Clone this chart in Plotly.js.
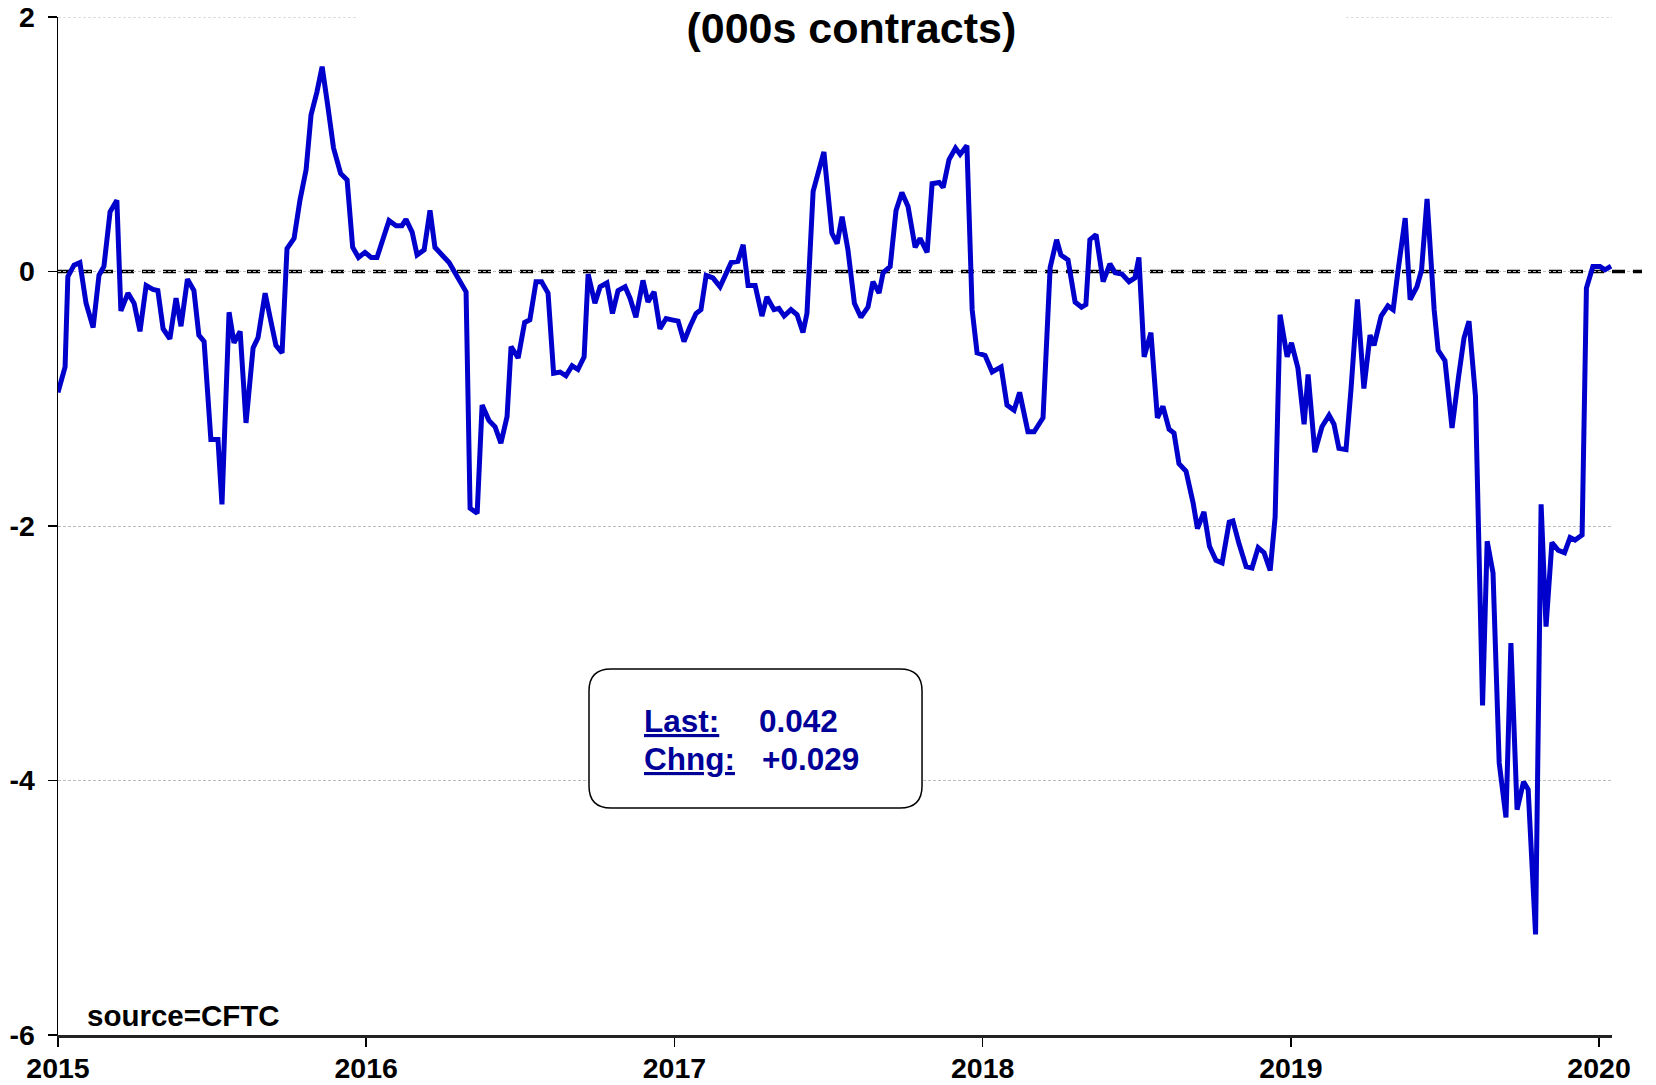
<!DOCTYPE html>
<html>
<head>
<meta charset="utf-8">
<script src="https://cdn.plot.ly/plotly-3.0.1.min.js"></script>
<style>
html,body{margin:0;padding:0;background:#fff;}
#chart{width:1656px;height:1085px;}
</style>
</head>
<body>
<div id="chart"></div>
<script>
// Weekly CFTC net positioning (000s contracts), x as decimal year
var dates = [
2015.000,2015.023,2015.032,2015.052,2015.071,2015.091,2015.114,2015.133,2015.149,2015.169,
2015.191,2015.204,2015.227,2015.247,2015.266,2015.286,2015.308,2015.324,2015.341,2015.363,
2015.383,2015.399,2015.420,2015.441,2015.457,2015.474,2015.496,2015.519,2015.532,2015.555,
2015.571,2015.591,2015.610,2015.633,2015.649,2015.672,2015.688,2015.707,2015.727,2015.743,
2015.766,2015.785,2015.805,2015.821,2015.840,2015.857,2015.876,2015.894,2015.917,2015.938,
2015.956,2015.975,2015.996,2016.016,2016.035,2016.055,2016.074,2016.097,2016.116,2016.129,
2016.149,2016.165,2016.188,2016.207,2016.223,2016.246,2016.269,2016.288,2016.324,2016.337,
2016.360,2016.376,2016.398,2016.418,2016.437,2016.457,2016.470,2016.493,2016.514,2016.531,
2016.551,2016.569,2016.590,2016.608,2016.629,2016.648,2016.668,2016.687,2016.707,2016.720,
2016.742,2016.759,2016.781,2016.799,2016.817,2016.840,2016.856,2016.875,2016.898,2016.914,
2016.934,2016.953,2016.973,2016.992,2017.012,2017.031,2017.051,2017.070,2017.086,2017.103,
2017.125,2017.148,2017.184,2017.206,2017.223,2017.239,2017.262,2017.284,2017.300,2017.323,
2017.339,2017.356,2017.378,2017.398,2017.417,2017.430,2017.450,2017.485,2017.511,2017.528,
2017.544,2017.563,2017.584,2017.605,2017.628,2017.644,2017.664,2017.677,2017.700,2017.719,
2017.738,2017.758,2017.781,2017.797,2017.820,2017.836,2017.859,2017.872,2017.891,2017.912,
2017.927,2017.949,2017.966,2017.982,2018.008,2018.031,2018.060,2018.079,2018.102,2018.120,
2018.147,2018.167,2018.196,2018.219,2018.240,2018.254,2018.277,2018.300,2018.321,2018.335,
2018.348,2018.368,2018.391,2018.413,2018.430,2018.452,2018.475,2018.494,2018.507,2018.524,
2018.546,2018.567,2018.585,2018.605,2018.621,2018.637,2018.660,2018.683,2018.697,2018.718,
2018.736,2018.757,2018.777,2018.800,2018.812,2018.832,2018.855,2018.874,2018.894,2018.913,
2018.933,2018.949,2018.965,2018.988,2019.002,2019.023,2019.043,2019.056,2019.078,2019.101,
2019.124,2019.140,2019.156,2019.179,2019.195,2019.216,2019.237,2019.257,2019.270,2019.293,
2019.315,2019.332,2019.348,2019.371,2019.387,2019.409,2019.424,2019.442,2019.465,2019.478,
2019.500,2019.523,2019.544,2019.562,2019.578,2019.599,2019.622,2019.637,2019.656,2019.676,
2019.698,2019.714,2019.734,2019.755,2019.770,2019.794,2019.812,2019.828,2019.847,2019.867,
2019.888,2019.906,2019.922,2019.945,2019.959,2019.980,2020.003,2020.019,2020.039
];
var netPositions = [
-0.95,-0.75,-0.04,0.05,0.07,-0.25,-0.44,-0.03,0.04,0.47,
0.56,-0.31,-0.17,-0.25,-0.47,-0.11,-0.14,-0.15,-0.45,-0.53,
-0.21,-0.43,-0.06,-0.15,-0.50,-0.55,-1.32,-1.32,-1.83,-0.32,
-0.56,-0.47,-1.19,-0.60,-0.52,-0.17,-0.36,-0.58,-0.64,0.18,
0.26,0.56,0.80,1.23,1.41,1.61,1.29,0.97,0.77,0.72,
0.19,0.11,0.15,0.11,0.11,0.26,0.40,0.36,0.36,0.41,
0.31,0.13,0.17,0.48,0.19,0.13,0.07,-0.01,-0.16,-1.86,
-1.90,-1.05,-1.17,-1.22,-1.35,-1.14,-0.59,-0.68,-0.40,-0.38,
-0.08,-0.08,-0.17,-0.80,-0.79,-0.82,-0.74,-0.77,-0.67,-0.02,
-0.25,-0.12,-0.09,-0.33,-0.15,-0.12,-0.21,-0.36,-0.07,-0.24,
-0.16,-0.45,-0.37,-0.38,-0.39,-0.55,-0.43,-0.33,-0.30,-0.03,
-0.05,-0.12,0.07,0.08,0.21,-0.11,-0.11,-0.35,-0.20,-0.30,
-0.29,-0.35,-0.30,-0.34,-0.48,-0.33,0.63,0.94,0.30,0.22,
0.43,0.17,-0.25,-0.36,-0.28,-0.08,-0.17,-0.01,0.04,0.48,
0.62,0.51,0.19,0.26,0.15,0.69,0.70,0.66,0.88,0.97,
0.92,0.99,-0.30,-0.64,-0.66,-0.79,-0.75,-1.05,-1.09,-0.95,
-1.26,-1.26,-1.15,0.03,0.25,0.13,0.09,-0.24,-0.28,-0.26,
0.25,0.29,-0.08,0.06,-0.01,-0.02,-0.08,-0.05,0.11,-0.67,
-0.48,-1.15,-1.06,-1.24,-1.27,-1.51,-1.57,-1.82,-2.02,-1.89,
-2.16,-2.27,-2.29,-1.97,-1.96,-2.14,-2.32,-2.33,-2.17,-2.21,
-2.35,-1.93,-0.34,-0.67,-0.56,-0.76,-1.20,-0.81,-1.42,-1.22,
-1.13,-1.20,-1.39,-1.40,-0.93,-0.22,-0.92,-0.50,-0.58,-0.35,
-0.27,-0.30,0.01,0.42,-0.22,-0.12,0.01,0.57,-0.30,-0.62,
-0.70,-1.23,-0.83,-0.52,-0.39,-0.98,-3.41,-2.12,-2.37,-3.86,
-4.29,-2.92,-4.23,-4.01,-4.07,-5.21,-1.83,-2.79,-2.13,-2.19,
-2.21,-2.09,-2.11,-2.07,-0.13,0.04,0.04,0.013,0.042
];
var yearTicks = [2015, 2016, 2017, 2018, 2019, 2020];
var yearLabels = ['2015', '2016', '2017', '2018', '2019', '2020'];
var valueTicks = [-6, -4, -2, 0, 2];
var valueLabels = ['-6', '-4', '-2', '0', '2'];
var chartTitle = '(000s contracts)';
var sourceText = 'source=CFTC';

var FONT = 'Arial, "Liberation Sans", Helvetica, sans-serif';
var lastVal = netPositions[netPositions.length - 1];
var prevVal = netPositions[netPositions.length - 2];
var chng = lastVal - prevVal;
var lastTxt = lastVal.toFixed(3);
var chngTxt = (chng >= 0 ? '+' : '') + chng.toFixed(3);

var trace = {
  x: dates,
  y: netPositions,
  type: 'scatter',
  mode: 'lines',
  line: {color: '#0000CC', width: 5, simplify: false},
  hoverinfo: 'x+y'
};

// rounded info box (paper coords)
var bx0 = 0.3417, bx1 = 0.5560, by0 = 0.2230, by1 = 0.3595, rx = 0.0142, ry = 0.0216;
var boxPath = 'M' + (bx0 + rx) + ',' + by1 +
  ' L' + (bx1 - rx) + ',' + by1 +
  ' Q' + bx1 + ',' + by1 + ' ' + bx1 + ',' + (by1 - ry) +
  ' L' + bx1 + ',' + (by0 + ry) +
  ' Q' + bx1 + ',' + by0 + ' ' + (bx1 - rx) + ',' + by0 +
  ' L' + (bx0 + rx) + ',' + by0 +
  ' Q' + bx0 + ',' + by0 + ' ' + bx0 + ',' + (by0 + ry) +
  ' L' + bx0 + ',' + (by1 - ry) +
  ' Q' + bx0 + ',' + by1 + ' ' + (bx0 + rx) + ',' + by1 + ' Z';

var boxColor = '#000099';
var gridCol = '#BDBDBD';
var layout = {
  width: 1656,
  height: 1085,
  margin: {l: 58, r: 44, t: 17, b: 50, pad: 0},
  paper_bgcolor: '#ffffff',
  plot_bgcolor: '#ffffff',
  showlegend: false,
  title: {
    text: '<b>' + chartTitle + '</b>',
    font: {family: FONT, size: 43, color: '#000000'},
    xref: 'paper', x: 0.5105, xanchor: 'center',
    yref: 'container', y: 0.974, yanchor: 'middle'
  },
  xaxis: {
    type: 'linear',
    range: [2015, 2020.042],
    tickmode: 'array',
    tickvals: yearTicks,
    ticktext: yearLabels,
    showgrid: false,
    zeroline: false,
    showline: true,
    linecolor: '#222222',
    linewidth: 2.5,
    ticks: 'outside',
    ticklen: 9,
    tickwidth: 1.5,
    tickcolor: '#000000',
    ticklabelstandoff: -3,
    tickfont: {family: FONT, size: 28.5, color: '#000000', weight: 'bold'}
  },
  yaxis: {
    range: [-6, 2],
    tickmode: 'array',
    tickvals: valueTicks,
    ticktext: valueLabels,
    showgrid: true,
    gridcolor: gridCol,
    gridwidth: 1,
    griddash: '3px,2px',
    zeroline: false,
    showline: true,
    linecolor: '#000000',
    linewidth: 1.5,
    ticks: 'outside',
    ticklen: 9,
    tickwidth: 1.5,
    tickcolor: '#000000',
    ticklabelstandoff: 7,
    tickfont: {family: FONT, size: 28.5, color: '#000000', weight: 'bold'}
  },
  shapes: [
    {type: 'rect', xref: 'paper', yref: 'paper', x0: 0.1924, x1: 0.8288, y0: 0.985, y1: 1.02,
     fillcolor: '#ffffff', line: {width: 0}, layer: 'above'},
    {type: 'line', xref: 'paper', yref: 'y', x0: 0, x1: 0.1924, y0: 2, y1: 2,
     line: {color: gridCol, width: 1, dash: '3px,2px'}, layer: 'between'},
    {type: 'line', xref: 'paper', yref: 'y', x0: 0.8288, x1: 1, y0: 2, y1: 2,
     line: {color: gridCol, width: 1, dash: '3px,2px'}, layer: 'between'},
    {type: 'line', xref: 'paper', yref: 'y', x0: 1, x1: 1.0193, y0: 0, y1: 0,
     line: {color: gridCol, width: 1, dash: '3px,2px'}, layer: 'below'},
    {type: 'line', xref: 'paper', yref: 'y', x0: 0, x1: 1.0193, y0: 0, y1: 0,
     line: {color: '#000000', width: 3.5, dash: '13px,8px'}, layer: 'between'},
    {type: 'path', xref: 'paper', yref: 'paper', path: boxPath,
     fillcolor: '#ffffff', line: {color: '#000000', width: 1.5}, layer: 'above'}
  ],
  annotations: [
    {xref: 'paper', yref: 'paper', x: 0.0175, y: 0.0196, xanchor: 'left', yanchor: 'middle',
     text: '<b>' + sourceText + '</b>', showarrow: false,
     font: {family: FONT, size: 29.5, color: '#000000'}},
    {xref: 'paper', yref: 'paper', x: 0.3760, y: 0.3080, xanchor: 'left', yanchor: 'middle',
     text: '<b><u>Last:</u></b>', showarrow: false,
     font: {family: FONT, size: 31.5, color: boxColor}},
    {xref: 'paper', yref: 'paper', x: 0.4500, y: 0.3080, xanchor: 'left', yanchor: 'middle',
     text: '<b>' + lastTxt + '</b>', showarrow: false,
     font: {family: FONT, size: 31.5, color: boxColor}},
    {xref: 'paper', yref: 'paper', x: 0.3760, y: 0.2716, xanchor: 'left', yanchor: 'middle',
     text: '<b><u>Chng:</u></b>', showarrow: false,
     font: {family: FONT, size: 31.5, color: boxColor}},
    {xref: 'paper', yref: 'paper', x: 0.4518, y: 0.2716, xanchor: 'left', yanchor: 'middle',
     text: '<b>' + chngTxt + '</b>', showarrow: false,
     font: {family: FONT, size: 31.5, color: boxColor}}
  ]
};

Plotly.newPlot('chart', [trace], layout, {staticPlot: true, displayModeBar: false});
</script>
</body>
</html>
